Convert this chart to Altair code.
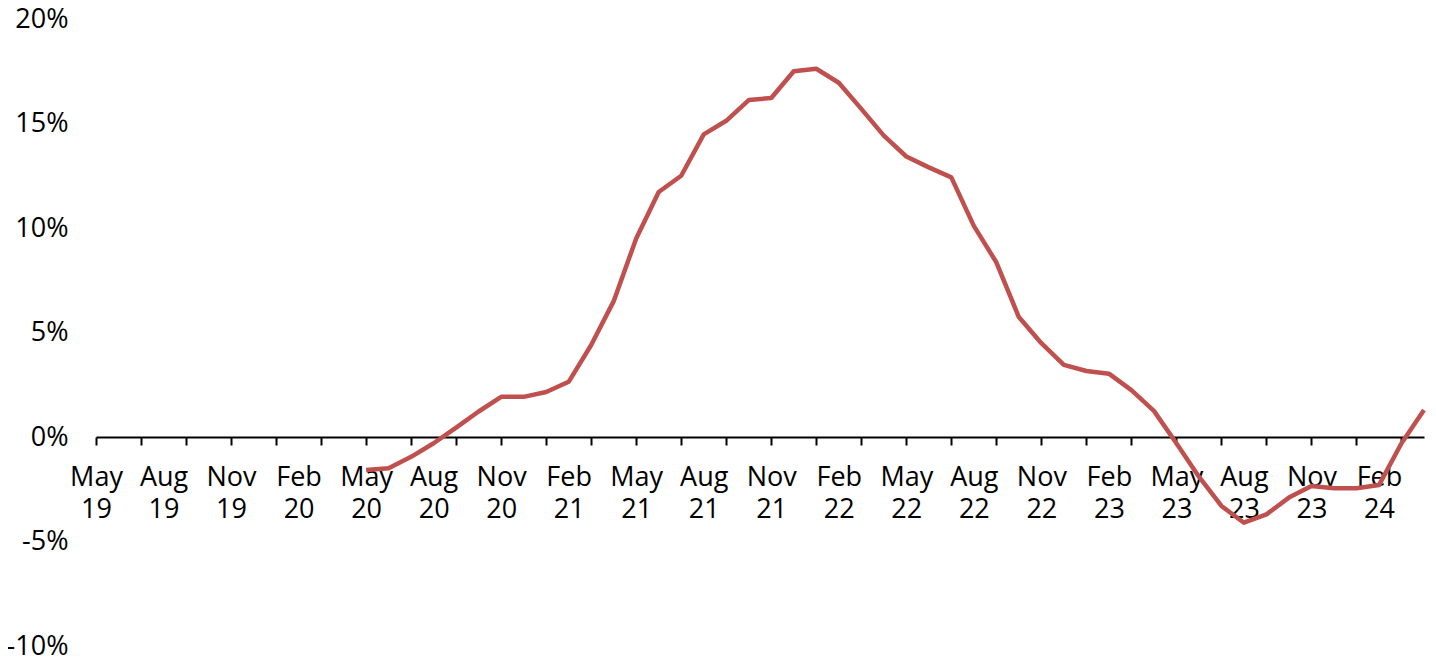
import json
import altair as alt
import pandas as pd

# Quarterly tick labels on the x axis (first one is May 2019 = month index 0)
tick_labels = ["May 19", "Aug 19", "Nov 19", "Feb 20", "May 20", "Aug 20", "Nov 20",
               "Feb 21", "May 21", "Aug 21", "Nov 21", "Feb 22", "May 22", "Aug 22",
               "Nov 22", "Feb 23", "May 23", "Aug 23", "Nov 23", "Feb 24"]

# Monthly series, May 2020 .. Apr 2024
months = ["2020-05", "2020-06", "2020-07", "2020-08", "2020-09", "2020-10", "2020-11", "2020-12",
          "2021-01", "2021-02", "2021-03", "2021-04", "2021-05", "2021-06", "2021-07", "2021-08",
          "2021-09", "2021-10", "2021-11", "2021-12", "2022-01", "2022-02", "2022-03", "2022-04",
          "2022-05", "2022-06", "2022-07", "2022-08", "2022-09", "2022-10", "2022-11", "2022-12",
          "2023-01", "2023-02", "2023-03", "2023-04", "2023-05", "2023-06", "2023-07", "2023-08",
          "2023-09", "2023-10", "2023-11", "2023-12", "2024-01", "2024-02", "2024-03", "2024-04"]
values = [-1.58, -1.5, -0.95, -0.3, 0.45, 1.22, 1.92, 1.92,
          2.15, 2.64, 4.4, 6.5, 9.5, 11.72, 12.5, 14.48,
          15.13, 16.12, 16.22, 17.5, 17.62, 16.95, 15.7, 14.42,
          13.42, 12.9, 12.42, 10.1, 8.36, 5.74, 4.49, 3.45,
          3.16, 3.03, 2.24, 1.25, -0.3, -1.9, -3.3, -4.1,
          -3.7, -2.9, -2.34, -2.45, -2.45, -2.3, -0.3, 1.29]

y_ticks = [-10, -5, 0, 5, 10, 15, 20]


def month_index(s):
    y, m = s.split("-")
    return (int(y) - 2019) * 12 + (int(m) - 5)


df = pd.DataFrame({"idx": [month_index(m) for m in months], "value": values})

W, H = 1328, 627
FONT = "Open Sans"
labels_js = json.dumps(tick_labels)

x_axis = alt.Axis(
    values=list(range(0, 59)),
    labelExpr=f"datum.value % 3 == 0 ? split({labels_js}[datum.value / 3], ' ') : ''",
    labelOverlap=False,
    labelFont=FONT,
    labelFontSize=27,
    labelColor="black",
    labelLineHeight=32,
    labelPadding=19,
    labelFlush=False,
    tickSize=8,
    tickWidth=2,
    tickColor="black",
    tickOpacity={"condition": {"test": "datum.value % 2 == 0", "value": 1}, "value": 0},
    domainColor="black",
    domainWidth=2,
    grid=False,
    title=None,
    offset=-H / 3,
)

y_axis = alt.Axis(
    values=y_ticks,
    labelExpr="datum.value + '%'",
    labelFont=FONT,
    labelFontSize=27,
    labelColor="black",
    labelPadding=28,
    ticks=False,
    domain=False,
    grid=False,
    title=None,
)

chart = (
    alt.Chart(df)
    .mark_line(color="#C0504D", strokeWidth=4.5, strokeJoin="round")
    .encode(
        x=alt.X("idx:Q", scale=alt.Scale(domain=[0, 59], nice=False, zero=False), axis=x_axis),
        y=alt.Y("value:Q", scale=alt.Scale(domain=[-10, 20], nice=False), axis=y_axis),
    )
    .properties(
        width=W,
        height=H,
        autosize=alt.AutoSizeParams(type="none"),
        padding={"left": 88, "top": 11, "right": 4, "bottom": 11},
        background="white",
    )
    .configure_view(stroke=None)
)

chart.save("out.html", embed_options={"renderer": "svg", "actions": False})
